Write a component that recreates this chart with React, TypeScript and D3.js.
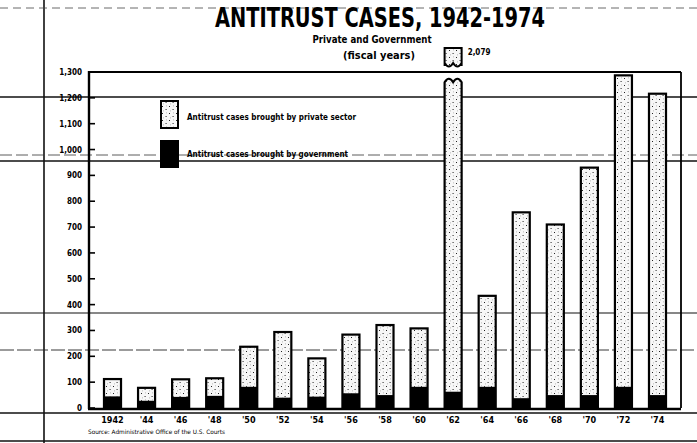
import React from "react";
import * as d3 from "d3";

const years = ["1942", "'44", "'46", "'48", "'50", "'52", "'54", "'56", "'58", "'60", "'62", "'64", "'66", "'68", "'70", "'72", "'74"];
const govCases = [45, 28, 43, 47, 82, 40, 44, 57, 50, 82, 63, 82, 38, 50, 50, 82, 50];
const privateCases = [67, 50, 68, 68, 155, 254, 148, 227, 271, 226, 2016, 352, 719, 660, 880, 1205, 1166];
const yTicks = [0, 100, 200, 300, 400, 500, 600, 700, 800, 900, 1000, 1100, 1200, 1300];
const legendLabels = ["Antitrust cases brought by private sector", "Antitrust cases brought by government"];
const brokenLabel = "2,079";

const W = 697, H = 443;
const FONT = "'Liberation Sans Narrow', 'DejaVu Sans Condensed', 'Liberation Sans', Arial, sans-serif";

export default function App() {
  const x = d3.scaleBand<string>().domain(years).range([89, 681]).paddingInner(0.5).paddingOuter(0.44);
  const y = d3.scaleLinear().domain([0, 1300]).range([408, 72]);
  const fmt = d3.format(",");
  const bw = x.bandwidth();
  const clipMax = 1272;

  const bars = years.map((yr, i) => {
    const gov = govCases[i];
    const total = gov + privateCases[i];
    const x0 = x(yr)!;
    const broken = total > 1300;
    const top = broken ? y(clipMax) : y(total);
    return { yr, x0, gov, total, broken, top };
  });

  const wave = (x0: number, yy: number, w: number, dir: number) =>
    `M${x0},${yy + 3 * dir} Q${x0 + w / 4},${yy - 4 * dir} ${x0 + w / 2},${yy + 3 * dir} Q${x0 + (3 * w) / 4},${yy - 4 * dir} ${x0 + w},${yy + 3 * dir}`;

  return (
    <svg width={W} height={H} style={{ display: "block", position: "absolute", left: 0, top: 0, background: "#fff" }}>
      <defs>
        <pattern id="stip" width="7" height="7" patternUnits="userSpaceOnUse">
          <rect width="7" height="7" fill="#f7f7f7" />
          <rect x="1" y="1" width="1" height="1" fill="#222" />
          <rect x="4.5" y="4" width="1.2" height="1" fill="#444" />
          <rect x="5" y="0.5" width="0.8" height="0.8" fill="#999" />
          <rect x="2" y="5.5" width="0.8" height="0.8" fill="#999" />
        </pattern>
      </defs>

      {/* scan artifacts / page lines */}
      <line x1={44} x2={44} y1={0} y2={H} stroke="#111" strokeWidth={1.6} />
      <line x1={0} x2={W} y1={97} y2={97} stroke="#111" strokeWidth={1.4} />
      <line x1={0} x2={W} y1={161} y2={161} stroke="#111" strokeWidth={1.6} />
      <line x1={0} x2={W} y1={155} y2={155} stroke="#333" strokeWidth={0.8} strokeDasharray="12 4" />
      <line x1={0} x2={W} y1={313} y2={313} stroke="#111" strokeWidth={1.2} />
      <line x1={0} x2={W} y1={350} y2={350} stroke="#222" strokeWidth={0.9} strokeDasharray="14 3" />
      <line x1={0} x2={W} y1={413} y2={413} stroke="#111" strokeWidth={1.3} />
      <line x1={0} x2={W} y1={441} y2={441} stroke="#111" strokeWidth={1.3} />
      <line x1={0} x2={W} y1={8} y2={8} stroke="#444" strokeWidth={0.8} strokeDasharray="8 5" />

      {/* title */}
      <text x={380} y={27} textAnchor="middle" fontFamily={FONT} fontWeight="bold" fontSize={26} textLength={330} lengthAdjust="spacingAndGlyphs">ANTITRUST CASES, 1942-1974</text>
      <text x={372} y={43} textAnchor="middle" fontFamily={FONT} fontWeight="bold" fontSize={11} textLength={119} lengthAdjust="spacingAndGlyphs">Private and Government</text>
      <text x={379} y={59} textAnchor="middle" fontFamily={FONT} fontWeight="bold" fontSize={11} textLength={72} lengthAdjust="spacingAndGlyphs">(fiscal years)</text>

      {/* frame */}
      <line x1={89} x2={681} y1={y(1300)} y2={y(1300)} stroke="#000" strokeWidth={1.8} />
      <line x1={681} x2={681} y1={y(1300)} y2={y(0)} stroke="#000" strokeWidth={1.8} />

      {/* y axis */}
      <line x1={89} x2={89} y1={y(1300) - 1} y2={y(0) + 1} stroke="#000" strokeWidth={2.4} />
      {yTicks.map((t) => (
        <g key={t}>
          <line x1={89} x2={95} y1={y(t)} y2={y(t)} stroke="#000" strokeWidth={1.6} />
          <text x={82} y={y(t) + 3} textAnchor="end" fontFamily={FONT} fontWeight="bold" fontSize={8}>{fmt(t)}</text>
        </g>
      ))}

      {/* bars */}
      {bars.map((b) => (
        <g key={b.yr}>
          <rect x={b.x0} y={b.top} width={bw} height={y(b.gov) - b.top} fill="url(#stip)" />
          <rect x={b.x0} y={y(b.gov)} width={bw} height={y(0) - y(b.gov)} fill="#000" />
          {!b.broken && (
            <rect x={b.x0} y={b.top} width={bw} height={y(0) - b.top} fill="none" stroke="#000" strokeWidth={2.2} />
          )}
          {b.broken && (
            <g>
              <path d={`M${b.x0},${y(0)} L${b.x0},${b.top + 3} ${wave(b.x0, b.top, bw, 1).replace("M", "L")} L${b.x0 + bw},${y(0)}`} fill="none" stroke="#000" strokeWidth={2.2} />
              <rect x={b.x0} y={y(1300) - 24} width={bw} height={18} fill="url(#stip)" />
              <path d={`M${b.x0},${y(1300) - 6} L${b.x0},${y(1300) - 24} L${b.x0 + bw},${y(1300) - 24} L${b.x0 + bw},${y(1300) - 6} ${wave(b.x0 + bw, y(1300) - 6, -bw, -1).replace("M", "L")}`} fill="none" stroke="#000" strokeWidth={2} />
              <text x={b.x0 + bw + 6} y={y(1300) - 17} fontFamily={FONT} fontWeight="bold" fontSize={8}>{brokenLabel}</text>
            </g>
          )}
        </g>
      ))}

      {/* baseline */}
      <line x1={88} x2={681} y1={y(0) + 1} y2={y(0) + 1} stroke="#000" strokeWidth={2.6} />

      {/* x labels */}
      {years.map((yr) => (
        <text key={yr} x={x(yr)! + bw / 2} y={423} textAnchor="middle" fontFamily={FONT} fontWeight="bold" fontSize={9}>{yr}</text>
      ))}

      {/* source */}
      <text x={88} y={434} fontFamily={FONT} fontSize={6} textLength={137} lengthAdjust="spacingAndGlyphs">Source: Administrative Office of the U.S. Courts</text>

      {/* legend */}
      <rect x={161} y={101} width={17} height={27} fill="url(#stip)" stroke="#000" strokeWidth={2} />
      <text x={187} y={120} fontFamily={FONT} fontWeight="bold" fontSize={9} textLength={169} lengthAdjust="spacingAndGlyphs">{legendLabels[0]}</text>
      <rect x={160} y={140} width={19} height={28} fill="#000" />
      <text x={187} y={157} fontFamily={FONT} fontWeight="bold" fontSize={9} textLength={161} lengthAdjust="spacingAndGlyphs">{legendLabels[1]}</text>
    </svg>
  );
}
